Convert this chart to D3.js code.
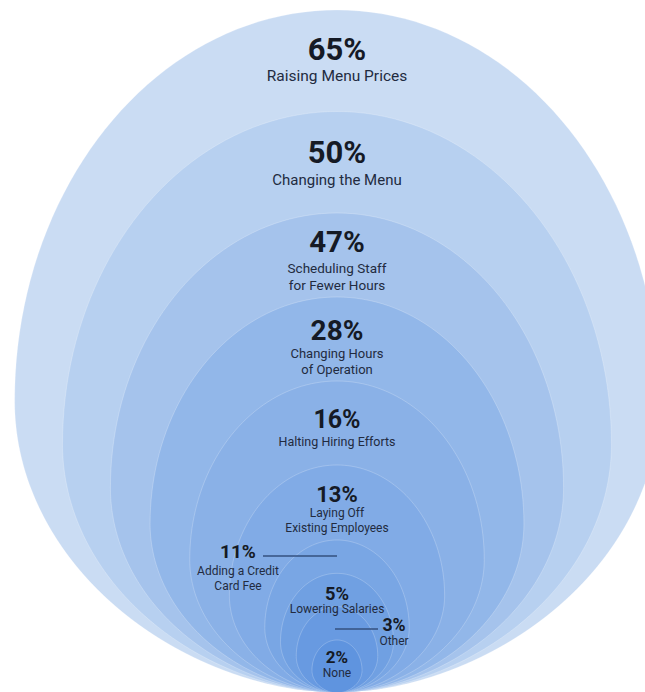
<html>
    <head>
        <title>Restaurant responses</title>
        <script type="text/javascript" src="https://cdn.jsdelivr.net/npm/d3@7"></script>
        <style>
            body{
                margin: 0;
                background: white;
            }
            .ring{
                stroke: rgba(255,255,255,0.22);
                stroke-width: 1px;
            }
            .pct{
                font-family: Roboto, "Noto Sans", sans-serif;
                font-weight: 700;
                fill: #151a25;
                text-anchor: middle;
            }
            .lbl{
                font-family: Roboto, "Noto Sans", sans-serif;
                font-weight: 400;
                fill: #222b3f;
                text-anchor: middle;
            }
            .leader{
                stroke: #34507f;
                stroke-width: 1.5px;
            }
        </style>
    </head>
    <body>
        <script type="text/javascript">
            // Data
            let values = [65, 50, 47, 28, 16, 13, 11, 5, 3, 2]
            let categories = [
                ["Raising Menu Prices"],
                ["Changing the Menu"],
                ["Scheduling Staff", "for Fewer Hours"],
                ["Changing Hours", "of Operation"],
                ["Halting Hiring Efforts"],
                ["Laying Off", "Existing Employees"],
                ["Adding a Credit", "Card Fee"],
                ["Lowering Salaries"],
                ["Other"],
                ["None"]
            ]

            let w = 645
            let h = 692
            let cx = 337
            let tipY = 693

            let svg = d3.select("body")
                        .append("svg")
                        .attr("width", w)
                        .attr("height", h)

            let ranks = d3.range(values.length)

            // ring height by rank (outer ring = rank 0), rings all touch at the bottom
            let heightScale = d3.scaleLinear()
                            .domain([0, 2, 5, 6, 9])
                            .range([683, 480, 228, 153, 53])
            let colorScale = d3.scaleLinear()
                            .domain([0, 3, 9])
                            .range(["#cadcf3", "#92b7e9", "#5f94df"])
            let pctSize = d3.scaleLinear()
                            .domain([0, 1, 3, 6, 9])
                            .range([31, 31, 28, 19, 17])
            let lblSize = d3.scaleLinear()
                            .domain([0, 1, 2, 5, 9])
                            .range([15.5, 15, 13.5, 12, 12])

            // egg outline: elliptic top, slightly pointed bottom, tip shared by all rings
            function eggPoints(H){
                let a = 0.472*H
                let c = 0.572*H
                let b = H - c
                let cy = tipY - b
                let pts = []
                let n = 90
                for (let i = 0; i <= n; i++){
                    let th = Math.PI*i/n
                    pts.push([cx - a*Math.cos(th), cy - c*Math.sin(th)])
                }
                for (let i = 1; i < n; i++){
                    let t = i/n
                    pts.push([cx + a*Math.pow(1 - t*t, 0.55), cy + b*t])
                }
                pts.push([cx, tipY])
                for (let i = n - 1; i > 0; i--){
                    let t = i/n
                    pts.push([cx - a*Math.pow(1 - t*t, 0.55), cy + b*t])
                }
                return pts
            }

            let line = d3.line().curve(d3.curveLinearClosed)

            svg.selectAll(".ring")
                .data(ranks)
                .enter()
                .append("path")
                .attr("class", "ring")
                .attr("d", d => line(eggPoints(heightScale(d))))
                .attr("fill", d => colorScale(d))

            // label layout: baseline of percentage, x centre, gap to first label line
            let labelY = [60, 163, 252, 340, 428, 502, 558, 600, 631, 663]
            let labelX = [cx, cx, cx, cx, cx, cx, 238, cx, 394, cx]
            let lineStep = [21, 22, 21, 18, 18, 15, 17, 13, 14, 14]

            let g = svg.selectAll(".lab")
                .data(ranks)
                .enter()
                .append("g")
                .attr("class", "lab")

            g.append("text")
                .attr("class", "pct")
                .attr("x", d => labelX[d])
                .attr("y", d => labelY[d])
                .style("font-size", d => pctSize(d) + "px")
                .text(d => values[d] + "%")

            g.each(function(d){
                let sel = d3.select(this)
                categories[d].forEach((txt, j) => {
                    sel.append("text")
                        .attr("class", "lbl")
                        .attr("x", labelX[d])
                        .attr("y", labelY[d] + lineStep[d] + j*(lblSize(d) + 3))
                        .style("font-size", lblSize(d) + "px")
                        .text(txt)
                })
            })

            // leader lines for side labels
            let leaders = [[6, 263, 337, -2], [8, 335, 378, -2]]
            svg.selectAll(".leader")
                .data(leaders)
                .enter()
                .append("line")
                .attr("class", "leader")
                .attr("x1", d => d[1])
                .attr("x2", d => d[2])
                .attr("y1", d => labelY[d[0]] + d[3])
                .attr("y2", d => labelY[d[0]] + d[3])
        </script>
    </body>
</html>
